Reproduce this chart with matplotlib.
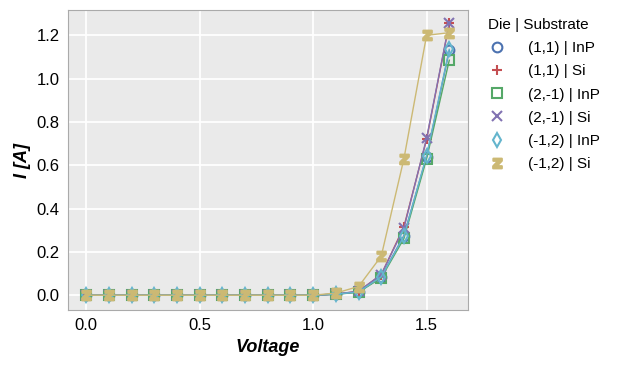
import numpy as np
import matplotlib.pyplot as plt

plt.rcParams['font.family'] = ['Liberation Sans', 'DejaVu Sans']

voltage = np.round(np.arange(0, 1.61, 0.1), 1)
zeros = [0.0] * 11
i_11_inp = zeros + [0.005, 0.015, 0.085, 0.275, 0.640, 1.130]
i_11_si = zeros + [0.005, 0.018, 0.095, 0.316, 0.720, 1.255]
i_21_inp = zeros + [0.004, 0.014, 0.080, 0.262, 0.630, 1.085]
i_21_si = zeros + [0.005, 0.018, 0.095, 0.310, 0.725, 1.258]
i_12_inp = zeros + [0.005, 0.015, 0.085, 0.272, 0.645, 1.135]
i_12_si = zeros + [0.010, 0.040, 0.180, 0.630, 1.200, 1.212]

labels = ['(1,1) | InP', '(1,1) | Si', '(2,-1) | InP', '(2,-1) | Si',
          '(-1,2) | InP', '(-1,2) | Si']
series = [i_11_inp, i_11_si, i_21_inp, i_21_si, i_12_inp, i_12_si]
colors = ['#4C72B0', '#C44E52', '#55A868', '#8172B2', '#64B5CD', '#CCB974']
markers = ['o', '+', 's', 'x', 'd', '$\\mathbf{z}$']
hollow = [True, False, True, False, True, False]

fig = plt.figure(figsize=(6.25, 3.71), dpi=100)
ax = fig.add_axes([0.109, 0.164, 0.64, 0.808])
ax.set_facecolor('#EAEAEA')
for s in ax.spines.values():
    s.set_color('#AAAAAA')
ax.grid(True, color='white', linewidth=1.3)
ax.set_axisbelow(True)

for y, lab, c, m, h in zip(series, labels, colors, markers, hollow):
    ax.plot(voltage, y, color=c, linewidth=1, marker=m, markersize=7,
            markerfacecolor='none' if h else c, markeredgecolor=c,
            markeredgewidth=1.5, label=lab)

ax.set_xlim(-0.08, 1.683)
ax.set_ylim(-0.069, 1.315)
ax.set_xticks([0.0, 0.5, 1.0, 1.5])
ax.set_yticks(np.arange(0, 1.21, 0.2))
ax.tick_params(labelsize=12, length=0, pad=6)
ax.set_xlabel('Voltage', fontsize=13, fontweight='bold', style='italic')
ax.set_ylabel('I [A]', fontsize=13, fontweight='bold', style='italic')

leg = ax.legend(title='Die | Substrate', loc='upper left', bbox_to_anchor=(1.0225, 1.01),
                frameon=False, fontsize=11, title_fontsize=11, handlelength=1.2,
                handletextpad=1.45, borderaxespad=0.3, labelspacing=0.6)
leg._legend_box.align = 'left'
for line in leg.get_lines():
    line.set_linestyle('none')

fig.savefig('out.png', dpi=100)
